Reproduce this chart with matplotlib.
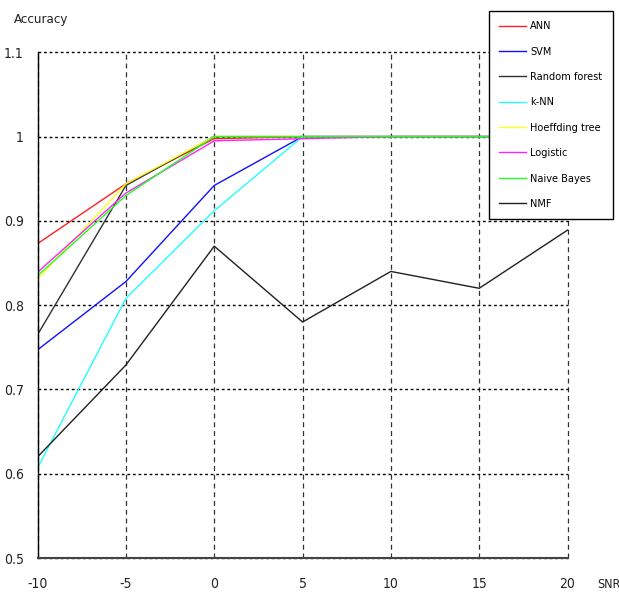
import matplotlib
matplotlib.use("Agg")
import matplotlib.pyplot as plt
from matplotlib import font_manager
from matplotlib.font_manager import FontProperties

snr = [-10, -5, 0, 5, 10, 15, 20]
ann = [0.873, 0.944, 0.9975, 1.0, 1.0, 1.0, 1.0]
svm = [0.747, 0.828, 0.942, 1.0, 1.0, 1.0, 1.0]
random_forest = [0.765, 0.942, 1.0, 1.0, 1.0, 1.0, 1.0]
knn = [0.607, 0.808, 0.912, 1.0, 1.0, 1.0, 1.0]
hoeffding = [0.831, 0.944, 1.0, 1.0, 1.0, 1.0, 1.0]
logistic = [0.839, 0.933, 0.995, 0.9975, 1.0, 1.0, 1.0]
naive_bayes = [0.835, 0.930, 1.0, 1.0, 1.0, 1.0, 1.0]
nmf = [0.620, 0.729, 0.870, 0.780, 0.840, 0.820, 0.889]

names = ["ANN", "SVM", "Random forest", "k-NN", "Hoeffding tree", "Logistic", "Naive Bayes", "NMF"]
series = [ann, svm, random_forest, knn, hoeffding, logistic, naive_bayes, nmf]
colors = ["#ff2020", "#1010ff", "#303030", "#20ffff", "#ffff20", "#ff20ff", "#20ff20", "#202020"]

yticks = [0.5, 0.6, 0.7, 0.8, 0.9, 1.0, 1.1]
ytick_labels = ["0.5", "0.6", "0.7", "0.8", "0.9", "1", "1.1"]
xticks = [-10, -5, 0, 5, 10, 15, 20]

# pick a condensed/narrow font if one is installed
narrow_path = None
best = 99
for f in font_manager.fontManager.ttflist:
    nm = f.name
    st = str(f.stretch)
    if f.style != "normal" or str(f.weight) not in ("400", "normal", "regular"):
        continue
    rank = None
    if nm == "Liberation Sans Narrow":
        rank = 0
    elif nm == "DejaVu Sans" and st in ("condensed", "semi-condensed"):
        rank = 1
    elif "Narrow" in nm or "Condensed" in nm:
        rank = 2
    elif st in ("condensed", "semi-condensed") and "Mono" not in nm and "Serif" not in nm:
        rank = 3
    if rank is not None and rank < best:
        best = rank
        narrow_path = f.fname

if narrow_path:
    def fp(size):
        return FontProperties(fname=narrow_path, size=size)
    tick_size, leg_size, lab_size = 10, 7.8, 9.5
else:
    def fp(size):
        return FontProperties(family="Liberation Sans", size=size)
    tick_size, leg_size, lab_size = 9.5, 7.0, 9.5

W, H = 619, 593
fig = plt.figure(figsize=(W / 100, H / 100), dpi=100)
ax = fig.add_axes([37.6 / W, 1 - 558 / H, (567.5 - 37.6) / W, (558 - 52.3) / H])

for vals, name, c in zip(series, names, colors):
    ax.plot(snr, vals, color=c, lw=1.0, label=name)

ax.set_xlim(-10, 20)
ax.set_ylim(0.5, 1.1)
ax.set_xticks(xticks)
ax.set_xticklabels([str(v) for v in xticks])
ax.set_yticks(yticks)
ax.set_yticklabels(ytick_labels)
ax.tick_params(axis="both", length=0, colors="#222222")
ax.tick_params(axis="x", pad=14)
ax.tick_params(axis="y", pad=10)
for lab in ax.get_xticklabels() + ax.get_yticklabels():
    lab.set_fontproperties(fp(tick_size))

ax.yaxis.grid(True, linestyle=(0, (2, 2)), color="black", lw=1.0)
ax.xaxis.grid(True, linestyle=(0, (4, 3)), color="#333333", lw=0.9)
ax.set_axisbelow(True)
for gl in ax.get_xgridlines() + ax.get_ygridlines():
    gl.set_clip_on(False)

for s in ["top", "right"]:
    ax.spines[s].set_visible(False)
ax.spines["left"].set_color("black")
ax.spines["left"].set_linewidth(1.0)
ax.spines["bottom"].set_color("#444444")
ax.spines["bottom"].set_linewidth(1.5)

fig.text(14 / W, 1 - 20 / H, "Accuracy", fontproperties=fp(lab_size), ha="left", va="center", color="#222222")
fig.text(597 / W, 1 - 584 / H, "SNR", fontproperties=fp(9), ha="left", va="center", color="#222222")

leg = fig.legend(loc="upper left", bbox_to_anchor=(489 / W, 1 - 11 / H),
                 bbox_transform=fig.transFigure, prop=fp(leg_size), frameon=True,
                 fancybox=False, edgecolor="black", framealpha=1.0,
                 handlelength=2.5, handletextpad=0.35, labelspacing=1.42,
                 borderpad=0.95, borderaxespad=0)
leg.get_frame().set_linewidth(1.0)
fig.text(572 / W, 1 - 36 / H, ".", fontsize=9, ha="center", va="center", color="#222222")

fig.savefig("out.png", dpi=100)
